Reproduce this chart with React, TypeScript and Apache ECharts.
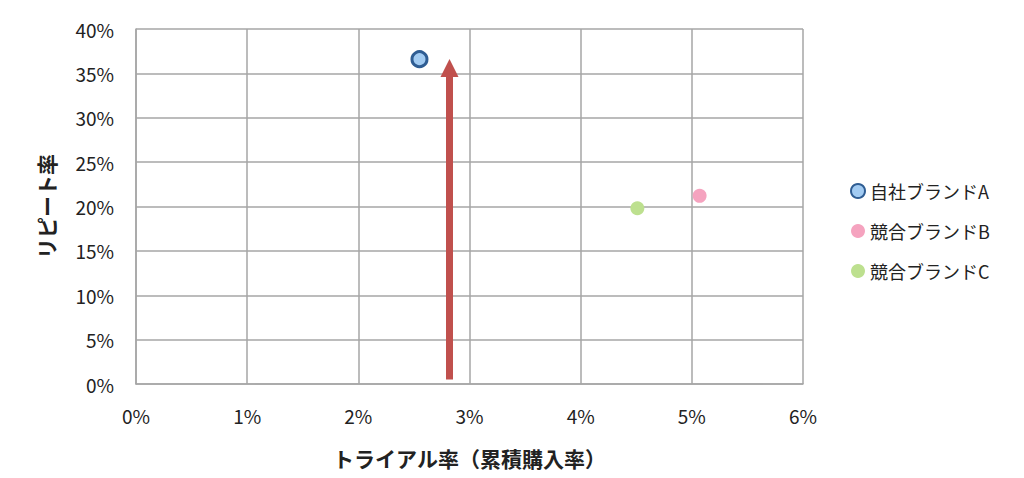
import React, { useEffect, useRef } from "react";
import * as echarts from "echarts";

const seriesNames = ["自社ブランドA", "競合ブランドB", "競合ブランドC"];
const trialRates = [2.55, 5.07, 4.51];
const repeatRates = [36.6, 21.2, 19.8];
const arrowFrom = [2.82, 0.5];
const arrowTo = [2.82, 35.6];
const xTicks = [0, 1, 2, 3, 4, 5, 6];
const yTicks = [0, 5, 10, 15, 20, 25, 30, 35, 40];

const FONT = "'Noto Sans CJK JP', 'Noto Sans', sans-serif";

export default function App() {
  const ref = useRef<HTMLDivElement>(null);
  useEffect(() => {
    if (!ref.current) return;
    const chart = echarts.init(ref.current, null, { renderer: "svg" });
    const styles = [
      { color: "#a2cbf2", borderColor: "#2f5d93", borderWidth: 3, size: 15 },
      { color: "#f5a3bf", borderColor: "#f5a3bf", borderWidth: 0, size: 14 },
      { color: "#bde08f", borderColor: "#bde08f", borderWidth: 0, size: 14 },
    ];
    const scatters = seriesNames.map((name, i) => ({
      name,
      type: "scatter",
      data: [[trialRates[i], repeatRates[i]]],
      symbol: "circle",
      symbolSize: styles[i].size,
      itemStyle: {
        color: styles[i].color,
        borderColor: styles[i].borderColor,
        borderWidth: styles[i].borderWidth,
        opacity: 1,
      },
      z: 5,
    }));
    chart.setOption({
      animation: false,
      textStyle: { fontFamily: FONT },
      grid: { left: 136, right: 221, top: 29, bottom: 94 },
      xAxis: {
        type: "value",
        min: xTicks[0],
        max: xTicks[xTicks.length - 1],
        interval: 1,
        name: "トライアル率（累積購入率）",
        nameLocation: "middle",
        nameGap: 63,
        nameTextStyle: { fontSize: 21, fontWeight: "bold", color: "#222", fontFamily: FONT },
        axisLine: { show: true, lineStyle: { color: "#a6a6a6", width: 1.5 } },
        axisTick: { show: false },
        axisLabel: { formatter: "{value}%", fontSize: 19, color: "#222", margin: 22, fontFamily: FONT },
        splitLine: { show: true, lineStyle: { color: "#a6a6a6", width: 1.5 } },
      },
      yAxis: {
        type: "value",
        min: yTicks[0],
        max: yTicks[yTicks.length - 1],
        interval: 5,
        name: "リピート率",
        nameLocation: "middle",
        nameGap: 80,
        nameRotate: 90,
        nameTextStyle: { fontSize: 21, fontWeight: "bold", color: "#222", fontFamily: FONT },
        axisLine: { show: true, lineStyle: { color: "#a6a6a6", width: 1.5 } },
        axisTick: { show: false },
        axisLabel: { formatter: "{value}%", fontSize: 19, color: "#222", margin: 22, fontFamily: FONT },
        splitLine: { show: true, lineStyle: { color: "#a6a6a6", width: 1.5 } },
      },
      legend: {
        orient: "vertical",
        left: 845,
        top: 177,
        itemGap: 22,
        itemWidth: 14,
        itemHeight: 14,
        icon: "circle",
        data: seriesNames,
        textStyle: { fontSize: 18, color: "#222", fontFamily: FONT },
      },
      series: [
        ...scatters,
        {
          type: "lines",
          coordinateSystem: "cartesian2d",
          data: [{ coords: [arrowFrom, arrowTo] }],
          symbol: ["none", "triangle"],
          symbolSize: [0, 18],
          lineStyle: { color: "#c0504d", width: 7, opacity: 1 },
          itemStyle: { color: "#c0504d" },
          silent: true,
          z: 4,
        },
      ],
    });
    return () => chart.dispose();
  }, []);
  return (
    <div
      ref={ref}
      style={{ position: "absolute", left: 0, top: 0, width: 1024, height: 478, background: "#fff" }}
    />
  );
}
